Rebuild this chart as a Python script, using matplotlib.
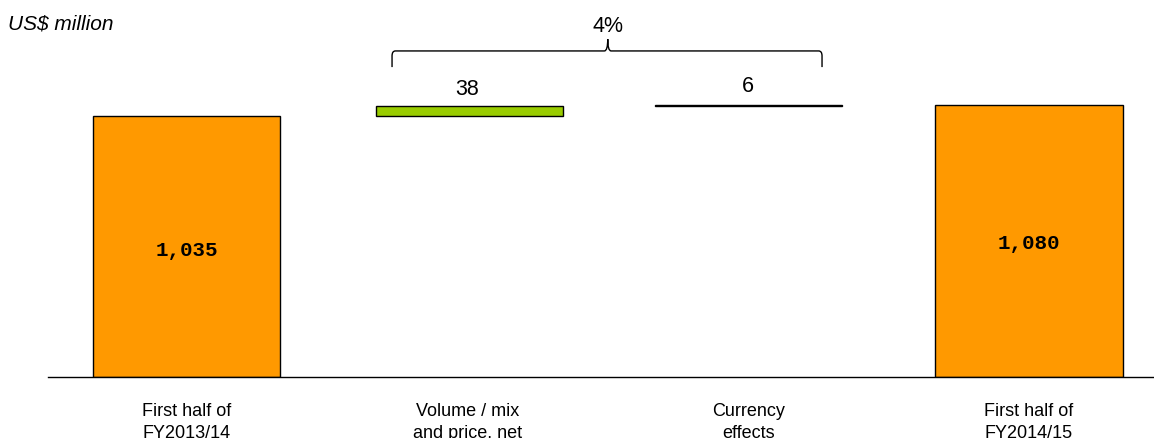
import matplotlib.pyplot as plt
from matplotlib.path import Path
from matplotlib.patches import PathPatch

# Бридж выручки, US$ million
categories = ["First half of\nFY2013/14", "Volume / mix\nand price, net",
              "Currency\neffects", "First half of\nFY2014/15"]
start_value = 1035
changes = [38, 6]
end_value = 1080
growth_label = "4%"

orange = "#FF9900"
green = "#99CC00"

fig = plt.figure(figsize=(11.54, 4.39), dpi=100)
ax = fig.add_axes([48 / 1154, 61 / 439, 1 - 48 / 1154, 1 - 61 / 439])

x = list(range(len(categories)))
width = 0.666

# итоговые столбцы
ax.bar(x[0], start_value, width=width, color=orange, edgecolor="black", linewidth=1)
ax.bar(x[3], end_value, width=width, color=orange, edgecolor="black", linewidth=1)

# промежуточные изменения
bottom = start_value
ax.bar(x[1] + 0.007, changes[0], bottom=bottom, width=width, color=green,
       edgecolor="black", linewidth=1)
bottom += changes[0]
ax.bar(x[2], changes[1], bottom=bottom, width=width, color="black",
       edgecolor="black", linewidth=1)

mono = dict(family="Liberation Mono", fontweight="bold", fontsize=15)
ax.text(x[0], start_value / 2 - 10, f"{start_value:,}", ha="center", va="center", **mono)
ax.text(x[3], end_value / 2 - 5, f"{end_value:,}", ha="center", va="center", **mono)

ax.text(x[1], 1145, str(changes[0]), ha="center", va="center",
        family="Liberation Sans", fontsize=15.5)
ax.text(x[2], 1155, str(changes[1]), ha="center", va="center",
        family="Liberation Sans", fontsize=15.5)

# фигурная скобка над изменениями
xl, xr = x[1] - 0.268, x[2] + 0.263
xm = (x[1] + x[2]) / 2
y0, y1, y2 = 1229, 1293, 1340
r = 0.012
verts = [(xl, y0), (xl, y1 - 20), (xl, y1), (xl + r, y1),
         (xm - r, y1), (xm, y1), (xm, y2),
         (xm, y2), (xm, y1), (xm + r, y1),
         (xr - r, y1), (xr, y1), (xr, y1 - 20), (xr, y0)]
codes = [Path.MOVETO, Path.LINETO, Path.CURVE3, Path.CURVE3,
         Path.LINETO, Path.CURVE3, Path.CURVE3,
         Path.MOVETO, Path.CURVE3, Path.CURVE3,
         Path.LINETO, Path.CURVE3, Path.CURVE3, Path.LINETO]
ax.add_patch(PathPatch(Path(verts, codes), fill=False, edgecolor="black", linewidth=1))
ax.text(xm, 1392, growth_label, ha="center", va="center",
        family="Liberation Sans", fontsize=15.5)

fig.text(8 / 1154, 1 - 24 / 439, "US$ million", ha="left", va="center",
         family="Liberation Sans", style="italic", fontsize=15)

ax.set_xlim(-0.493, 3.445)
ax.set_ylim(0, 1499)
ax.set_xticks(x, categories)
ax.tick_params(axis="x", length=0, pad=18, labelsize=13)
for lab in ax.get_xticklabels():
    lab.set_family("Liberation Sans")
    lab.set_linespacing(1.4)
ax.set_yticks([])
for side in ["top", "right", "left"]:
    ax.spines[side].set_visible(False)
ax.spines["bottom"].set_linewidth(1)

fig.savefig("out.png", dpi=100)
